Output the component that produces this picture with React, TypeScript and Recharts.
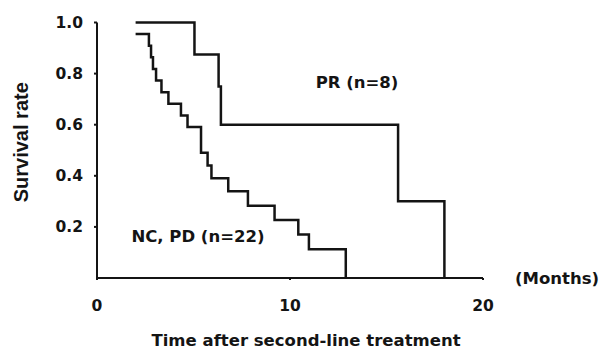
import React from 'react';
import { LineChart, Line, XAxis, YAxis, ReferenceDot, Label } from 'recharts';

// PR group (n=8): Kaplan-Meier steps
const prMonths = [2.0, 5.05, 6.3, 6.42, 15.6, 18.0];
const prSurvival = [1.0, 0.875, 0.75, 0.6, 0.3, 0];

// NC, PD group (n=22)
const ncMonths = [2.0, 2.69, 2.8, 2.9, 3.06, 3.34, 3.7, 4.35, 4.69, 5.39, 5.73, 5.93, 6.8, 7.82, 9.2, 10.43, 10.98, 12.89];
const ncSurvival = [0.955, 0.909, 0.864, 0.818, 0.773, 0.727, 0.682, 0.636, 0.591, 0.49, 0.44, 0.39, 0.34, 0.283, 0.227, 0.17, 0.113, 0];

const xTicks = [0, 10, 20];
const yTicks = [0.2, 0.4, 0.6, 0.8, 1.0];

const prData = prMonths.map((m, i) => ({ month: m, survival: prSurvival[i] }));
const ncData = ncMonths.map((m, i) => ({ month: m, survival: ncSurvival[i] }));

const INK = '#141414';
const FONT = '"DejaVu Sans", sans-serif';

export default function App() {
  const tickStyle = { fontFamily: FONT, fontWeight: 700, fontSize: 15.5, fill: INK };
  const annStyle = { fontFamily: FONT, fontWeight: 700, fontSize: 16.5, fill: INK };
  return (
    <div style={{ position: 'absolute', left: 0, top: 0, width: 602, height: 349, background: '#fff' }}>
      <LineChart width={602} height={349} margin={{ top: 22.5, right: 119, left: 37, bottom: 0 }}>
        <XAxis
          type="number"
          dataKey="month"
          domain={[0, 20]}
          ticks={xTicks}
          tickSize={2}
          tickMargin={20}
          height={71}
          stroke={INK}
          strokeWidth={2}
          tick={tickStyle}
          allowDuplicatedCategory={false}
          label={{
            value: 'Time after second-line treatment',
            position: 'insideBottom',
            offset: 3,
            dx: 16,
            style: { fontFamily: FONT, fontWeight: 700, fontSize: 16.5, fill: INK },
          }}
        >
          <Label
            value="(Months)"
            position="right"
            offset={32}
            dy={-35}
            style={{ fontFamily: FONT, fontWeight: 700, fontSize: 16.5, fill: INK }}
          />
        </XAxis>
        <YAxis
          type="number"
          domain={[0, 1]}
          ticks={yTicks}
          width={60}
          tickSize={3}
          tickMargin={11}
          stroke={INK}
          strokeWidth={2}
          tick={tickStyle}
          tickFormatter={(v: number) => v.toFixed(1)}
          label={{
            value: 'Survival rate',
            angle: -90,
            position: 'center',
            dx: -46,
            dy: -8,
            style: { fontFamily: '"Liberation Sans", Arial, sans-serif', fontWeight: 700, fontSize: 20, fill: INK, textAnchor: 'middle' },
          }}
        />
        <Line
          data={prData}
          dataKey="survival"
          type="stepAfter"
          stroke={INK}
          strokeWidth={2.5}
          dot={false}
          activeDot={false}
          isAnimationActive={false}
        />
        <Line
          data={ncData}
          dataKey="survival"
          type="stepAfter"
          stroke={INK}
          strokeWidth={2.5}
          dot={false}
          activeDot={false}
          isAnimationActive={false}
        />
        <ReferenceDot x={13.47} y={0.768} r={0} stroke="none" fill="none" label={{ value: 'PR (n=8)', position: 'center', style: annStyle }} />
        <ReferenceDot x={5.23} y={0.162} r={0} stroke="none" fill="none" label={{ value: 'NC, PD (n=22)', position: 'center', style: annStyle }} />
      </LineChart>
    </div>
  );
}
